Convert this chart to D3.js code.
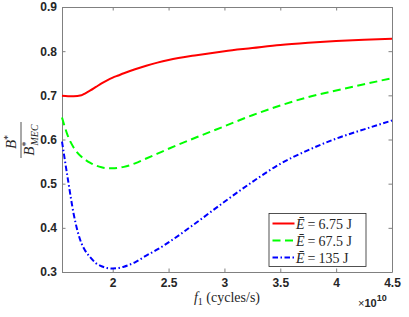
<!DOCTYPE html>
<html>
<head>
<meta charset="utf-8">
<script src="https://cdn.jsdelivr.net/npm/d3@7"></script>
<style>
  body { margin: 0; background: white; }
  .tick text { font-family: "Liberation Sans", Arial, sans-serif; font-weight: bold; font-size: 12px; fill: #262626; }
  .serif { font-family: "Liberation Serif", "DejaVu Serif", serif; fill: #262626; }
</style>
</head>
<body>
<div id="chart"></div>
<script>
// Frequency samples (units of 1e10 cycles/s) and the three ratio curves.
var fValues = [1.546, 1.6, 1.65, 1.72, 1.75, 1.8, 1.85, 1.9, 1.95, 2.0, 2.05, 2.1,
               2.2, 2.3, 2.4, 2.5, 2.75, 3.0, 3.25, 3.5, 3.75, 4.0, 4.25, 4.5];
var ratioLow  = [0.699, 0.698, 0.698, 0.700, 0.704, 0.711, 0.719, 0.727, 0.734, 0.740, 0.745, 0.750,
                 0.759, 0.767, 0.774, 0.780, 0.791, 0.800, 0.807, 0.814, 0.819, 0.823, 0.826, 0.828];
var ratioMid  = [0.650, 0.607, 0.582, 0.561, 0.555, 0.547, 0.541, 0.537, 0.535, 0.535, 0.536, 0.538,
                 0.546, 0.557, 0.568, 0.579, 0.605, 0.630, 0.655, 0.677, 0.696, 0.711, 0.725, 0.739];
var ratioHigh = [0.595, 0.508, 0.432, 0.365, 0.350, 0.333, 0.320, 0.313, 0.309, 0.308, 0.309, 0.312,
                 0.322, 0.337, 0.351, 0.367, 0.412, 0.459, 0.504, 0.545, 0.576, 0.602, 0.623, 0.643];
var seriesNames = ["6.75 J", "67.5 J", "135 J"];
var xTicks = [2, 2.5, 3, 3.5, 4, 4.5];
var yTicks = [0.3, 0.4, 0.5, 0.6, 0.7, 0.8, 0.9];

var W = 409, H = 317;
var margin = {top: 7, right: 17, bottom: 45, left: 62};
var pw = W - margin.left - margin.right;
var ph = H - margin.top - margin.bottom;

var svg = d3.select("#chart").append("svg")
    .attr("width", W)
    .attr("height", H);

var g = svg.append("g").attr("transform", "translate(" + margin.left + "," + margin.top + ")");

var x = d3.scaleLinear().domain([1.546, 4.5]).range([0, pw]);
var y = d3.scaleLinear().domain([0.3, 0.9]).range([ph, 0]);

// Axes, with ticks pointing inward like matlab
function styleAxis(sel){
    sel.select(".domain").attr("stroke", "#808080");
    sel.selectAll(".tick line").attr("stroke", "#808080");
}
var fmt = function(d){ return String(d); };
g.append("g").attr("transform", "translate(0," + ph + ")")
    .call(d3.axisBottom(x).tickValues(xTicks).tickFormat(fmt).tickSize(-3.5).tickSizeOuter(0).tickPadding(6))
    .call(styleAxis);
g.append("g")
    .call(d3.axisTop(x).tickValues(xTicks).tickFormat("").tickSize(-3.5).tickSizeOuter(0))
    .call(styleAxis);
g.append("g")
    .call(d3.axisLeft(y).tickValues(yTicks).tickFormat(d3.format(".1f")).tickSize(-3.5).tickSizeOuter(0).tickPadding(5))
    .call(styleAxis);
g.append("g").attr("transform", "translate(" + pw + ",0)")
    .call(d3.axisRight(y).tickValues(yTicks).tickFormat("").tickSize(-3.5).tickSizeOuter(0))
    .call(styleAxis);

// Curves
var series = [
    {values: ratioLow,  color: "#ff0000", dash: null},
    {values: ratioMid,  color: "#00ff00", dash: "8,4.5"},
    {values: ratioHigh, color: "#0000ff", dash: "5.5,2.5,1.5,2.5"}
];
var line = d3.line()
    .x(function(d){ return x(d[0]); })
    .y(function(d){ return y(d[1]); })
    .curve(d3.curveMonotoneX);

series.forEach(function(s){
    var pts = fValues.map(function(f, i){ return [f, s.values[i]]; });
    g.append("path")
        .datum(pts)
        .attr("fill", "none")
        .attr("stroke", s.color)
        .attr("stroke-width", 2)
        .attr("stroke-dasharray", s.dash)
        .attr("d", line);
});

// Legend
var lg = svg.append("g").attr("transform", "translate(269,213.5)");
lg.append("rect").attr("width", 97).attr("height", 53)
    .attr("fill", "white").attr("stroke", "#262626").attr("stroke-width", 0.8);
series.forEach(function(s, i){
    var ly = 10 + i * 17;
    lg.append("line").attr("x1", 3.5).attr("x2", 25.5).attr("y1", ly).attr("y2", ly)
        .attr("stroke", s.color).attr("stroke-width", 2).attr("stroke-dasharray", s.dash);
    var t = lg.append("text").attr("class", "serif").attr("x", 27).attr("y", ly + 5)
        .style("font-size", "14px");
    t.append("tspan").style("font-style", "italic").text("E\u0304");
    t.append("tspan").attr("dx", 3).text("=");
    t.append("tspan").attr("dx", 3).text(seriesNames[i]);
});

// X label
var xl = svg.append("text").attr("class", "serif")
    .attr("x", margin.left + pw / 2).attr("y", 302)
    .attr("text-anchor", "middle").style("font-size", "14px");
xl.append("tspan").style("font-style", "italic").text("f");
xl.append("tspan").attr("dy", 3).style("font-size", "10px").text("1");
xl.append("tspan").attr("dy", -3).text("  (cycles/s)");

// Exponent
var ex = svg.append("text").attr("x", 358).attr("y", 307)
    .style("font-family", "Liberation Sans, Arial, sans-serif").style("font-weight", "bold")
    .style("font-size", "11px").attr("fill", "#262626");
ex.append("tspan").style("font-weight", "normal").text("\u00d7");
ex.append("tspan").text("10");
ex.append("tspan").attr("dy", -6).style("font-size", "9px").text("10");

// Y label, fraction B*/B*_MEC rotated
var yl = svg.append("g").attr("transform", "translate(21,140) rotate(-90)");
var num = yl.append("text").attr("class", "serif").attr("text-anchor", "middle")
    .attr("x", -2).attr("y", -5).style("font-size", "15px");
num.append("tspan").style("font-style", "italic").text("B");
num.append("tspan").attr("dy", -5).style("font-size", "10px").text("*");
yl.append("line").attr("x1", -18).attr("x2", 18).attr("y1", 0).attr("y2", 0)
    .attr("stroke", "#262626").attr("stroke-width", 0.8);
var den = yl.append("text").attr("class", "serif").attr("text-anchor", "middle")
    .attr("x", 0).attr("y", 13).style("font-size", "15px");
den.append("tspan").style("font-style", "italic").text("B");
den.append("tspan").attr("dy", -5).style("font-size", "10px").text("*");
den.append("tspan").attr("dx", -4).attr("dy", 9).style("font-size", "10px").style("font-style", "italic").text("MEC");
</script>
</body>
</html>
